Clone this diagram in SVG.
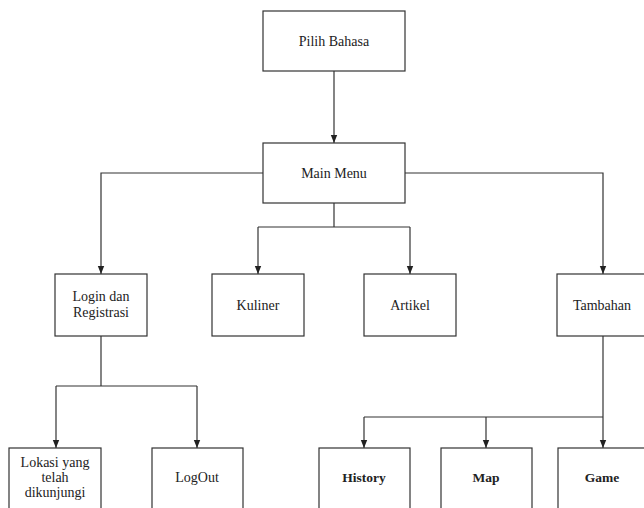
<svg xmlns="http://www.w3.org/2000/svg" width="644" height="508" viewBox="0 0 644 508">
  <style>
    .box { fill: #ffffff; stroke: #333333; stroke-width: 1.2; }
    .lbl { font-family: "Liberation Serif", "Times New Roman", serif; font-size: 14px; fill: #222222; text-anchor: middle; }
    .b { font-weight: bold; font-size: 13.5px; }
    .wire { fill: none; stroke: #333333; stroke-width: 1.2; }
  </style>
  <defs>
    <marker id="arrow" viewBox="0 0 8 8" refX="8" refY="4" markerWidth="8" markerHeight="8" markerUnits="userSpaceOnUse" orient="auto">
      <path d="M0,0.8 L8,4 L0,7.2 Z" fill="#222222"/>
    </marker>
  </defs>
  <rect width="644" height="508" fill="#ffffff"/>

  <g id="connectors">
    <!-- Pilih Bahasa to Main Menu -->
    <path class="wire" d="M334,71 V143" marker-end="url(#arrow)"/>
    <!-- Main Menu to Login / Tambahan -->
    <path class="wire" d="M263,173 H101 V274" marker-end="url(#arrow)"/>
    <path class="wire" d="M405,173 H603 V274" marker-end="url(#arrow)"/>
    <!-- Main Menu to Kuliner / Artikel -->
    <path class="wire" d="M334,203 V227"/>
    <path class="wire" d="M258,227 H410"/>
    <path class="wire" d="M258,227 V274" marker-end="url(#arrow)"/>
    <path class="wire" d="M410,227 V274" marker-end="url(#arrow)"/>
    <!-- Login to children -->
    <path class="wire" d="M101,336 V386"/>
    <path class="wire" d="M56,386 H197"/>
    <path class="wire" d="M56,386 V448" marker-end="url(#arrow)"/>
    <path class="wire" d="M197,386 V448" marker-end="url(#arrow)"/>
    <!-- Tambahan to children -->
    <path class="wire" d="M603,336 V417"/>
    <path class="wire" d="M364,417 H603"/>
    <path class="wire" d="M364,417 V448" marker-end="url(#arrow)"/>
    <path class="wire" d="M486,417 V448" marker-end="url(#arrow)"/>
    <path class="wire" d="M603,417 V448" marker-end="url(#arrow)"/>
  </g>

  <g id="pilih-bahasa">
    <rect class="box" x="263" y="11" width="142" height="60"/>
    <text class="lbl" x="334" y="46">Pilih Bahasa</text>
  </g>
  <g id="main-menu">
    <rect class="box" x="263" y="143" width="142" height="60"/>
    <text class="lbl" x="334" y="178">Main Menu</text>
  </g>
  <g id="login">
    <rect class="box" x="55" y="274" width="92" height="62"/>
    <text class="lbl" x="101" y="301">Login dan</text>
    <text class="lbl" x="101" y="317">Registrasi</text>
  </g>
  <g id="kuliner">
    <rect class="box" x="212" y="274" width="92" height="62"/>
    <text class="lbl" x="258" y="310">Kuliner</text>
  </g>
  <g id="artikel">
    <rect class="box" x="364" y="274" width="92" height="62"/>
    <text class="lbl" x="410" y="310">Artikel</text>
  </g>
  <g id="tambahan">
    <rect class="box" x="557" y="274" width="92" height="62"/>
    <text class="lbl" x="602" y="310">Tambahan</text>
  </g>
  <g id="lokasi">
    <rect class="box" x="9" y="448" width="92" height="70"/>
    <text class="lbl" x="55" y="467">Lokasi yang</text>
    <text class="lbl" x="55" y="482">telah</text>
    <text class="lbl" x="55" y="497">dikunjungi</text>
  </g>
  <g id="logout">
    <rect class="box" x="152" y="448" width="91" height="70"/>
    <text class="lbl" x="197" y="482">LogOut</text>
  </g>
  <g id="history">
    <rect class="box" x="319" y="448" width="91" height="70"/>
    <text class="lbl b" x="364" y="482">History</text>
  </g>
  <g id="map">
    <rect class="box" x="441" y="448" width="91" height="70"/>
    <text class="lbl b" x="486" y="482">Map</text>
  </g>
  <g id="game">
    <rect class="box" x="558" y="448" width="91" height="70"/>
    <text class="lbl b" x="602" y="482">Game</text>
  </g>
</svg>
